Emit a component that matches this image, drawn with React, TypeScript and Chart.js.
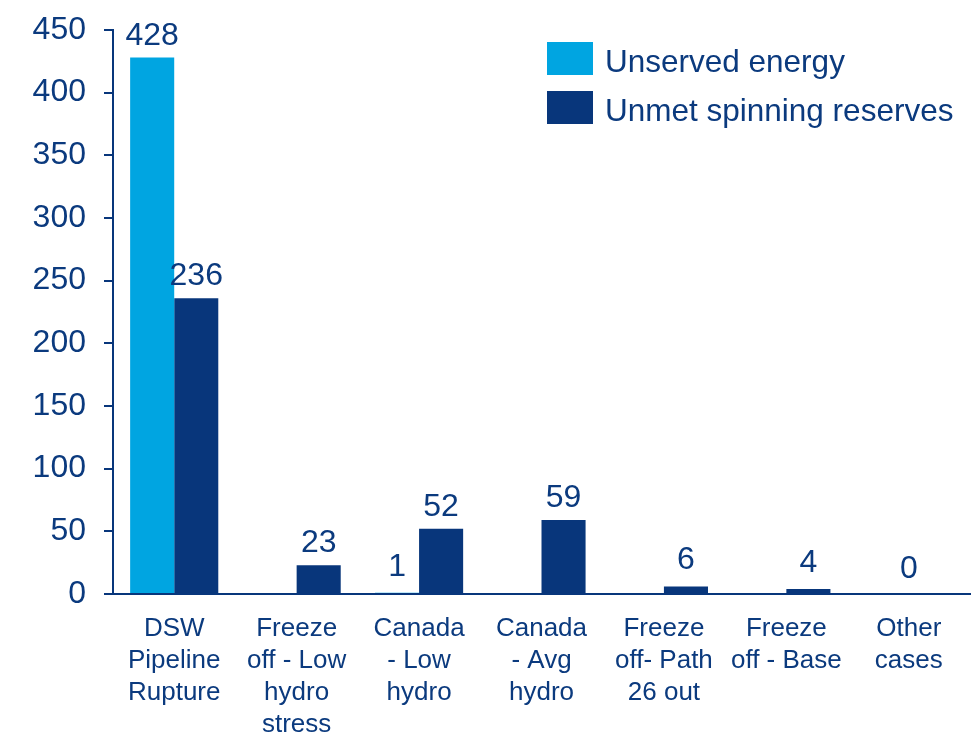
import React, { useEffect, useRef } from "react";
import { Chart, registerables } from "chart.js";

Chart.register(...registerables);

const categories: string[][] = [
  ["DSW", "Pipeline", "Rupture"],
  ["Freeze", "off - Low", "hydro", "stress"],
  ["Canada", "- Low", "hydro"],
  ["Canada", "- Avg", "hydro"],
  ["Freeze", "off- Path", "26 out"],
  ["Freeze", "off - Base"],
  ["Other", "cases"],
];
const unservedEnergy = [428, 0, 1, 0, 0, 0, 0];
const unmetReserves = [236, 23, 52, 59, 6, 4, 0];
const unservedLabels: (string | null)[] = ["428", null, "1", null, null, null, null];
const reserveLabels: (string | null)[] = ["236", "23", "52", "59", "6", "4", null];
const categoryLabels: (string | null)[] = [null, null, null, null, null, null, "0"];
const yTicks = [0, 50, 100, 150, 200, 250, 300, 350, 400, 450];

const LIGHT = "#00a5e1";
const DARK = "#08367b";
const TEXT = "#0b3a7e";
const FONT = "'Liberation Sans', Arial, sans-serif";

const labelPlugin = {
  id: "valueLabels",
  afterDatasetsDraw(chart: any) {
    const ctx = chart.ctx;
    ctx.save();
    ctx.fillStyle = TEXT;
    ctx.font = `32px ${FONT}`;
    ctx.textAlign = "center";
    ctx.textBaseline = "alphabetic";
    const sets = [unservedLabels, reserveLabels];
    sets.forEach((labels, di) => {
      const meta = chart.getDatasetMeta(di);
      meta.data.forEach((bar: any, i: number) => {
        const t = labels[i];
        if (t == null) return;
        const gap = bar.base - bar.y < 10 ? 17 : 13;
        ctx.fillText(t, bar.x, bar.y - gap);
      });
    });
    const xs = chart.scales.x;
    const ys = chart.scales.y;
    categoryLabels.forEach((t, i) => {
      if (t == null) return;
      ctx.fillText(t, xs.getPixelForValue(i), ys.getPixelForValue(0) - 16);
    });
    ctx.restore();
  },
};

const legendPlugin = {
  id: "customLegend",
  afterDraw(chart: any) {
    const ctx = chart.ctx;
    ctx.save();
    ctx.font = `31.5px ${FONT}`;
    ctx.textBaseline = "middle";
    ctx.textAlign = "left";
    chart.data.datasets.forEach((ds: any, i: number) => {
      const y = 42 + i * 49;
      ctx.fillStyle = ds.backgroundColor;
      ctx.fillRect(547, y, 46, 33);
      ctx.fillStyle = TEXT;
      ctx.fillText(ds.label, 605, y + 21);
    });
    ctx.restore();
  },
};

export default function App() {
  const ref = useRef<HTMLCanvasElement>(null);
  useEffect(() => {
    document.body.style.margin = "0";
    const chart = new Chart(ref.current!, {
      type: "bar",
      data: {
        labels: categories,
        datasets: [
          { label: "Unserved energy", data: unservedEnergy, backgroundColor: LIGHT },
          { label: "Unmet spinning reserves", data: unmetReserves, backgroundColor: DARK },
        ],
      },
      options: {
        animation: false,
        responsive: false,
        devicePixelRatio: 1,
        layout: { padding: { top: 30, right: 7, left: 0, bottom: 0 } },
        plugins: { legend: { display: false }, tooltip: { enabled: false } },
        datasets: { bar: { barPercentage: 1, categoryPercentage: 0.72 } },
        scales: {
          x: {
            grid: { display: false },
            border: { display: true, color: DARK, width: 2 },
            ticks: {
              color: TEXT,
              font: { family: FONT, size: 26, lineHeight: 32 / 26 },
              padding: 11,
              maxRotation: 0,
              autoSkip: false,
            },
            afterFit(scale: any) {
              scale.height = 142;
              scale.paddingLeft = 0;
              scale.paddingRight = 0;
            },
          },
          y: {
            min: 0,
            max: 450,
            afterBuildTicks(scale: any) {
              scale.ticks = yTicks.map((v) => ({ value: v }));
            },
            grid: { drawOnChartArea: false, tickLength: 9, color: DARK, lineWidth: 2 },
            border: { display: true, color: DARK, width: 2 },
            ticks: {
              color: TEXT,
              font: { family: FONT, size: 32 },
              padding: 18,
            },
            afterFit(scale: any) {
              scale.width = 113;
              scale.paddingTop = 0;
              scale.paddingBottom = 0;
            },
          },
        },
      },
      plugins: [labelPlugin, legendPlugin],
    } as any);
    return () => chart.destroy();
  }, []);
  return (
    <div style={{ position: "absolute", left: 0, top: 0, width: 977, height: 736, background: "#fff" }}>
      <canvas ref={ref} width={977} height={736} style={{ width: 977, height: 736 }} />
    </div>
  );
}
